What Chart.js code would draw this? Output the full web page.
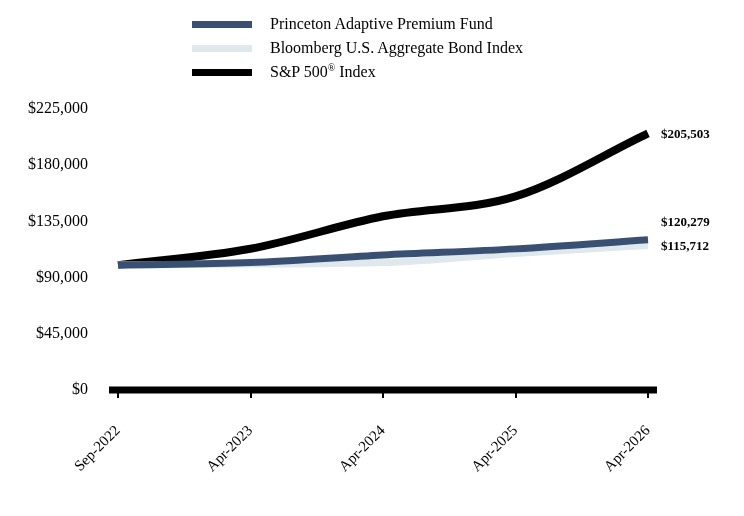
<!DOCTYPE html>
<html>
<head>
<meta charset="utf-8">
<script src="https://cdn.jsdelivr.net/npm/chart.js@4"></script>
<style>
body { margin: 0; background: #fff; }
#wrap { position: relative; width: 744px; height: 516px; }
#legend { position: absolute; left: 192px; top: 12px; font-family: 'Liberation Serif', 'Times New Roman', serif; font-size: 16px; color: #000; }
.item { height: 24px; display: flex; align-items: center; }
.sw { width: 60px; height: 7px; margin-right: 18px; }
</style>
</head>
<body>
<div id="wrap">
  <canvas id="canvas" width="744" height="516"></canvas>
  <div id="legend"></div>
</div>
<script>
const labels = ['Sep-2022', 'Apr-2023', 'Apr-2024', 'Apr-2025', 'Apr-2026'];
const fund = [100000, 102000, 108100, 113000, 120279];
const bond = [100000, 100800, 102000, 109300, 115712];
const sp500 = [100000, 113100, 139100, 155000, 205503];
const names = ['Princeton Adaptive Premium Fund', 'Bloomberg U.S. Aggregate Bond Index', 'S&P 500<sup style="font-size:10px">®</sup> Index'];
const colors = ['#3a5072', '#dfe8ec', '#000000'];

// legend (html)
let html = '';
for (let i = 0; i < names.length; i++) {
    html += '<div class="item"><span class="sw" style="background:' + colors[i] + '"></span><span>' + names[i] + '</span></div>';
}
document.getElementById('legend').innerHTML = html;

// shift of the end labels so they don't sit on each other
const labelShift = [-17, 1, 1];

const extras = {
    id: 'extras',
    afterDatasetsDraw(chart) {
        const ctx = chart.ctx;
        const x = chart.scales.x, y = chart.scales.y;
        const y0 = y.getPixelForValue(0);
        ctx.save();
        ctx.strokeStyle = '#000';
        ctx.lineWidth = 7;
        ctx.beginPath();
        ctx.moveTo(x.left - 9, y0);
        ctx.lineTo(x.right + 9, y0);
        ctx.stroke();
        ctx.font = 'bold 13px "Liberation Serif"';
        ctx.textBaseline = 'middle';
        ctx.fillStyle = '#000';
        chart.data.datasets.forEach((ds, i) => {
            const v = ds.data[ds.data.length - 1];
            ctx.fillText('$' + v.toLocaleString('en-US'), x.right + 13, y.getPixelForValue(v) + labelShift[i]);
        });
        ctx.restore();
    }
};

Chart.defaults.font.family = "'Liberation Serif', 'Times New Roman', serif";
Chart.defaults.color = '#000';

new Chart(document.getElementById('canvas'), {
    type: 'line',
    data: {
        labels: labels,
        datasets: [
            { label: 'Princeton Adaptive Premium Fund', data: fund, borderColor: colors[0], borderWidth: 7 },
            { label: 'Bloomberg U.S. Aggregate Bond Index', data: bond, borderColor: colors[1], borderWidth: 7 },
            { label: 'S&P 500® Index', data: sp500, borderColor: colors[2], borderWidth: 8 }
        ]
    },
    options: {
        responsive: false,
        animation: false,
        layout: { padding: { top: 109, right: 96, left: 0, bottom: 0 } },
        elements: {
            point: { radius: 0 },
            line: { cubicInterpolationMode: 'monotone', borderCapStyle: 'butt' }
        },
        plugins: {
            legend: { display: false },
            tooltip: { enabled: false }
        },
        scales: {
            x: {
                grid: { drawOnChartArea: false, tickLength: 8, lineWidth: 2, color: '#000' },
                border: { display: false },
                ticks: { font: { size: 15 }, maxRotation: 45, minRotation: 45, padding: 24 },
                afterFit: function(s) { s.height = 126; }
            },
            y: {
                min: 0,
                max: 225000,
                grid: { display: false },
                border: { display: false },
                ticks: {
                    stepSize: 45000,
                    font: { size: 16 },
                    padding: 22,
                    callback: v => '$' + v.toLocaleString('en-US')
                },
                afterFit: function(s) { s.width = 118; }
            }
        }
    },
    plugins: [extras]
});
</script>
</body>
</html>
